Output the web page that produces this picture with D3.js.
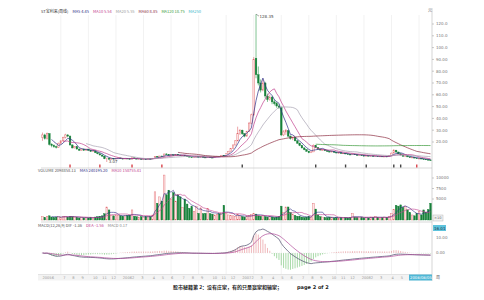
<!DOCTYPE html>
<meta charset="utf-8" />
<style>
  body { margin: 0; background: #fff; }
  text { font-family: "DejaVu Sans", sans-serif; }
  .cn { font-family: "Noto Sans CJK SC", sans-serif; }
</style>
<body>
<div id="chart"></div>
<script src="https://d3js.org/d3.v7.min.js"></script>
<script>
  // weekly candles [open, high, low, close]
  var ohlc = [
    [24,28,21,26],[26,27,22,23],[23,28,22,27],[27,27.5,17,18],[18,19,15.5,17],
    [17,18,15,16],[16,17,14.5,15.5],[15.5,19.5,15,19],[19,21.5,18,21],[21,24.5,20,24],
    [24,27,23,26],[26,26.5,24,25],[25,25.5,17,17.5],[17.5,18,14.5,15],[15,16.5,14.5,16],
    [16,16.2,13.8,14],[14,14.5,12.5,13],[13,14.5,12.8,14],[14,14.2,12.5,13],[13,14.3,12.8,14],
    [14,14.2,12.6,13],[13,13.3,11.6,12],[12,13,11.8,12.5],[12.5,12.8,10.6,11],[11,11.2,9.6,10],
    [10,10.3,8.6,9],[9,9.2,7.6,8],[8,8.2,5.5,5.8],[5.8,6.6,3.07,6.3],[6.3,6.5,5.2,5.4],
    [5.4,6.2,5.2,6],[6,6.3,5.4,5.6],[5.6,6.4,5.5,6.2],[6.2,6.8,6,6.5],[6.5,6.7,5.8,6],
    [6,6.2,5.5,5.7],[5.7,6.3,5.6,6.1],[6.1,6.4,5.7,5.9],[5.9,6,5.3,5.5],[5.5,6.8,5.4,6.6],
    [6.6,6.7,5.8,6],[6,6.1,5.4,5.6],[5.6,5.9,5.3,5.7],[5.7,5.8,5.2,5.4],[5.4,5.7,5.2,5.6],
    [5.6,5.8,5.3,5.5],[5.5,5.9,5.4,5.8],[5.8,6,5.5,5.7],[5.7,6.4,5.6,6.3],[6.3,8,6.2,7.8],
    [7.8,8.1,7,7.2],[7.2,8.3,7.1,8.1],[8.1,8.4,7.5,7.7],[7.7,10.2,7.6,9.8],[9.8,10.5,9,9.3],
    [9.3,9.5,8.4,8.6],[8.6,9.4,8.5,9.2],[9.2,9.3,8.4,8.5],[8.5,9.8,8.4,9.6],[9.6,9.7,8.7,8.9],
    [8.9,9.1,8.2,8.4],[8.4,9,8.3,8.8],[8.8,8.9,8,8.2],[8.2,8.3,7.5,7.7],[7.7,7.8,7.1,7.3],
    [7.3,7.4,6.8,7],[7,7.6,6.9,7.4],[7.4,7.9,7.2,7.7],[7.7,7.8,7,7.2],[7.2,7.7,7.1,7.5],
    [7.5,7.6,6.8,7],[7,7.2,6.6,6.8],[6.8,7.4,6.7,7.2],[7.2,7.3,6.8,6.9],[6.9,7.1,6.6,6.8],
    [6.8,7.6,6.7,7.5],[7.5,8.2,7.4,8],[8,8.1,7.6,7.8],[7.8,9,7.7,8.8],[8.8,8.9,8.2,8.4],
    [8.4,10.2,8.3,10],[10,12.5,9.8,12.2],[12.2,14.8,12,14.5],[14.5,17.8,14.2,17.5],[17.5,21.5,17,21],
    [21,33,20.5,27],[27,31,26,30],[30,30.5,26,27],[27,27.5,24,25],[25,29.5,24.5,29],
    [29,37,28.5,36],[36,44,35,43],[43,92,42,90],[91,128.35,74,77],[77,84,68,70],
    [70,73,62,64],[64,73,63,70],[70,71,57,59],[59,61,54,56],[56,60,55,58],
    [58,59,52,54],[54,56,51,52.5],[52.5,54,49,50.5],[50.5,52,48,49],[49,50,25,26],
    [26,30,25,28.5],[28.5,31,26,29.5],[29.5,30,24,25],[25,25.5,22,23],[23,24.5,21.5,24],
    [24,24.2,20.5,21],[21,21.5,18.5,19],[19,19.5,16.5,17],[17,17.5,14.5,15],[15,15.3,13,13.5],
    [13.5,13.8,11.8,12.2],[12.2,12.5,10.5,11],[11,12,10.6,11.6],[11.6,18,11.5,17],[17,17.3,14.8,15.2],
    [15.2,15.5,13.6,14],[14,14.3,12.8,13.2],[13.2,13.8,12.6,13.5],[13.5,13.6,12.3,12.6],[12.6,12.8,11.6,12],
    [12,12.4,11.2,11.5],[11.5,12.2,11.3,12],[12,12.1,11,11.2],[11.2,11.4,10.4,10.7],[10.7,11,10.2,10.9],
    [10.9,11,10,10.3],[10.3,10.7,10.1,10.5],[10.5,10.6,9.6,9.9],[9.9,10,9.3,9.5],[9.5,9.7,8.9,9.2],
    [9.2,10,9.1,9.8],[9.8,9.9,9,9.2],[9.2,9.3,8.5,8.8],[8.8,9.1,8.6,9],[9,9.1,8.3,8.5],
    [8.5,8.7,8,8.2],[8.2,8.6,8.1,8.5],[8.5,8.6,7.9,8.1],[8.1,8.4,7.8,8.3],[8.3,8.4,7.7,7.9],
    [7.9,8.2,7.6,8],[8,8.1,7.5,7.7],[7.7,8,7.5,7.9],[7.9,8,7.4,7.6],[7.6,7.9,7.4,7.8],
    [7.8,7.9,7.3,7.5],[7.5,8.6,7.4,8.4],[8.4,11,8.3,10.6],[10.6,14,10.5,13],[13,13.4,11,11.5],
    [11.5,11.8,9.6,10],[10,10.5,8.6,9],[9,9.2,7.6,7.9],[7.9,8.6,7.7,8.3],[8.3,8.4,7.2,7.4],
    [7.4,7.6,6.6,6.8],[6.8,7.2,6.5,7],[7,7.1,6.2,6.4],[6.4,6.6,5.8,6],[6,6.3,5.6,6.1],
    [6.1,6.2,5.4,5.6],[5.6,5.9,5.2,5.4],[5.4,5.5,4.9,5.1],[5.1,5.3,4.6,4.8],[4.8,5,4.3,4.5]
  ];

  var volume = [
    800,600,900,1000,700, 600,700,800,700,800, 900,700,900,800,700, 600,500,600,500,600,
    500,600,500,700,800, 900,1000,1500,3100,2400, 1100,1000,1200,1100,1000, 900,1000,1100,1200,2400,
    900,800,700,800,700, 800,900,800,1200,6700, 4000,5500,4500,10700,6000, 7100,5000,6500,4500,6000,
    5500,3000,5000,3800,2800, 3200,2000,3300,1600,2900, 1500,1600,2800,1500,1400, 1200,1300,1500,1600,3500,
    1500,1200,1100,1000,900, 1300,1000,800,700,900, 1100,1300,1500,1400,1000, 900,1000,800,700,800,
    700,600,700,800,3300, 1800,3100,3100,1800,1300, 1100,900,800,700,600, 700,800,700,4000,2600,
    1200,800,700,600,600, 700,600,500,600,500, 600,500,600,500,600, 1500,700,600,500,600,
    500,600,500,700,600, 900,600,500,600,700, 600,900,1500,2500,3500, 3300,3600,3000,3300,2400,
    1800,1200,1000,1500,2000, 1200,2400,1800,2500,4000
  ];

  var gridIdx = [8, 20, 32, 44, 56, 68, 80, 92, 104, 116, 128, 140, 152, 164];
  var priceTicks = [120, 110, 100, 90, 80, 70, 60, 50, 40, 30, 20];
  var volTicks = [10000, 7500, 5000];
  var macdTicks = [10, 0];
  var markers = [[12, "r"], [25, "r"], [39, "r"], [52, "r"], [87, "k"], [119, "k"],
                 [132, "k"], [141, "k"], [153, "k"], [156, "k"], [163, "r"]];
  var dateTicks = [[0,"2005"],[4,"6"],[9,"7"],[13,"8"],[17,"9"],[22,"10"],[26,"11"],[30,"12"],
    [35,"2006"],[39,"2"],[43,"3"],[48,"4"],[52,"5"],[56,"6"],[61,"7"],[65,"8"],[69,"9"],[74,"10"],
    [78,"11"],[82,"12"],[87,"2007"],[91,"2"],[95,"3"],[100,"4"],[104,"5"],[108,"6"],[113,"7"],
    [117,"8"],[121,"9"],[126,"10"],[130,"11"],[134,"12"],[139,"2008"],[143,"2"],[147,"3"],[152,"4"],
    [156,"5"]];

  var priceLegend = [["ST宝利来(周线)", "#333"], ["MA5 4.45", "#2e2e86"], ["MA10 5.54", "#c2408e"],
    ["MA20 5.55", "#9a9a9a"], ["MA60 8.85", "#8c2c40"], ["MA120 18.75", "#3a9a3a"], ["MA250", "#3bb4c8"]];
  var volLegend = [["VOLUME 2098858.13", "#555"], ["MA5 240195.20", "#2e2e86"], ["MA10 158755.41", "#c2408e"]];
  var macdLegend = [["MACD(12,26,9) DIF -1.36", "#555"], ["DEA -1.56", "#c2408e"], ["MACD 0.17", "#888"]];
  var lastDate = "2008/08/05";
  var caption = "股市秘籍第 2：没有庄家，有的只是赢家和输家；";
  var pageText = "page 2 of 2";

  var W = 484, H = 300, L = 41, R = 432;
  var upFill = "#fde6e6", upStroke = "#e0666c", dnFill = "#17803a";

  var svg = d3.select("#chart").append("svg").attr("width", W).attr("height", H);

  var n = ohlc.length;
  var x = d3.scaleBand().domain(d3.range(n)).range([L, R]).padding(0.28);
  var bw = x.bandwidth();
  var cx = function (i) { return x(i) + bw / 2; };

  var yP = d3.scaleLinear().domain([0, 120]).range([165.6, 24]);
  var yV = d3.scaleLinear().domain([0, 10000]).range([220, 178]);
  var yM = d3.scaleLinear().domain([0, 10]).range([253, 238]);

  // moving averages
  function ma(arr, k) {
    return arr.map(function (d, i) {
      return i < k - 1 ? null : d3.mean(arr.slice(i - k + 1, i + 1));
    });
  }
  function ema(arr, k) {
    var a = 2 / (k + 1), out = [], prev;
    arr.forEach(function (d, i) { prev = i === 0 ? d : prev + a * (d - prev); out.push(prev); });
    return out;
  }
  var closes = ohlc.map(function (d) { return d[3]; });

  // vertical grid lines through all panels
  svg.append("g").selectAll("line").data(gridIdx).join("line")
    .attr("x1", cx).attr("x2", cx).attr("y1", 15).attr("y2", 274)
    .attr("stroke", "#e9e9e9").attr("stroke-width", 0.6);

  // panel separators
  [[168, "#cfcfcf"], [222, "#cfcfcf"]].forEach(function (s) {
    svg.append("line").attr("x1", L).attr("x2", R).attr("y1", s[0]).attr("y2", s[0])
      .attr("stroke", s[1]).attr("stroke-width", 0.8);
  });
  svg.append("line").attr("x1", R).attr("x2", R).attr("y1", 8).attr("y2", 281)
    .attr("stroke", "#bbb").attr("stroke-width", 0.6);

  // price candles
  var gc = svg.append("g");
  gc.selectAll("line").data(ohlc).join("line")
    .attr("x1", function (d, i) { return cx(i); }).attr("x2", function (d, i) { return cx(i); })
    .attr("y1", function (d) { return yP(d[1]); }).attr("y2", function (d) { return yP(d[2]); })
    .attr("stroke", function (d) { return d[3] >= d[0] ? upStroke : "#2a9a48"; })
    .attr("stroke-width", 0.6);
  gc.selectAll("rect").data(ohlc).join("rect")
    .attr("x", function (d, i) { return x(i); }).attr("width", bw)
    .attr("y", function (d) { return yP(Math.max(d[0], d[3])); })
    .attr("height", function (d) { return Math.max(0.6, Math.abs(yP(d[0]) - yP(d[3]))); })
    .attr("fill", function (d) { return d[3] >= d[0] ? upFill : dnFill; })
    .attr("stroke", function (d) { return d[3] >= d[0] ? upStroke : dnFill; })
    .attr("stroke-width", 0.4);

  var maDefs = [[5, "#2e2e86"], [10, "#c2408e"], [20, "#a8a2b2"], [60, "#8c2c40"], [120, "#3a9a3a"]];
  var line = function (ys) {
    return d3.line().defined(function (d) { return d != null; })
      .x(function (d, i) { return cx(i); }).y(function (d) { return ys(d); });
  };
  maDefs.forEach(function (m) {
    svg.append("path").datum(ma(closes, m[0]))
      .attr("d", line(yP)).attr("fill", "none").attr("stroke", m[1]).attr("stroke-width", 0.7);
  });

  // high / low labels
  var hiI = d3.maxIndex(ohlc, function (d) { return d[1]; });
  var loI = d3.minIndex(ohlc, function (d) { return d[2]; });
  svg.append("path")
    .attr("d", "M" + cx(hiI) + "," + yP(ohlc[hiI][1]) + "l3,2")
    .attr("stroke", "#555").attr("stroke-width", 0.5).attr("fill", "none");
  svg.append("text").attr("x", cx(hiI) + 3.5).attr("y", yP(ohlc[hiI][1]) + 3.5)
    .attr("font-size", 4).attr("fill", "#444").text(ohlc[hiI][1].toFixed(2));
  svg.append("text").attr("x", cx(loI) + 2).attr("y", yP(ohlc[loI][2]) + 1.5)
    .attr("font-size", 4).attr("fill", "#444").text(ohlc[loI][2].toFixed(2));

  // event markers
  svg.append("g").selectAll("rect").data(markers).join("rect")
    .attr("x", function (d) { return cx(d[0]) - 0.7; }).attr("y", 164.5)
    .attr("width", 1.4).attr("height", 3)
    .attr("fill", function (d) { return d[1] === "r" ? "#d9434a" : "#444"; });

  // price axis
  var ga = svg.append("g");
  ga.selectAll("line").data(priceTicks).join("line")
    .attr("x1", R).attr("x2", R + 2).attr("y1", yP).attr("y2", yP)
    .attr("stroke", "#999").attr("stroke-width", 0.5);
  ga.selectAll("text").data(priceTicks).join("text")
    .attr("x", R + 4).attr("y", function (d) { return yP(d) + 1.4; })
    .attr("font-size", 4).attr("fill", "#777").text(d3.format(".4r"));
  svg.append("text").attr("class", "cn").attr("x", R - 4).attr("y", 12)
    .attr("font-size", 4).attr("fill", "#666").text("元");

  // legends
  function legend(items, x0, y0, gap) {
    var xx = x0;
    items.forEach(function (it) {
      var t = svg.append("text").attr("class", "cn").attr("x", xx).attr("y", y0)
        .attr("font-size", 4).attr("fill", it[1]).text(it[0]);
      xx += t.node().getComputedTextLength() + gap;
    });
  }
  legend(priceLegend, 41, 12.5, 4);
  legend(volLegend, 38, 172, 4);
  legend(macdLegend, 38, 226.5, 4);

  // volume
  var gv = svg.append("g");
  gv.selectAll("rect").data(volume).join("rect")
    .attr("x", function (d, i) { return x(i); }).attr("width", bw)
    .attr("y", function (d) { return yV(d); })
    .attr("height", function (d) { return yV(0) - yV(d); })
    .attr("fill", function (d, i) { return ohlc[i][3] >= ohlc[i][0] ? upFill : dnFill; })
    .attr("stroke", function (d, i) { return ohlc[i][3] >= ohlc[i][0] ? upStroke : dnFill; })
    .attr("stroke-width", 0.4);
  [[5, "#2e2e86"], [10, "#c2408e"]].forEach(function (m) {
    svg.append("path").datum(ma(volume, m[0]))
      .attr("d", line(yV)).attr("fill", "none").attr("stroke", m[1]).attr("stroke-width", 0.6);
  });
  svg.append("g").selectAll("text").data(volTicks).join("text")
    .attr("x", R + 4).attr("y", function (d) { return yV(d) + 1.4; })
    .attr("font-size", 4).attr("fill", "#777").text(function (d) { return d; });
  svg.append("g").selectAll("line").data(volTicks).join("line")
    .attr("x1", R).attr("x2", R + 2).attr("y1", yV).attr("y2", yV)
    .attr("stroke", "#999").attr("stroke-width", 0.5);
  svg.append("rect").attr("x", R + 1).attr("y", 215).attr("width", 10).attr("height", 6)
    .attr("fill", "#f2f2f2").attr("stroke", "#aaa").attr("stroke-width", 0.4);
  svg.append("text").attr("x", R + 2).attr("y", 219.3).attr("font-size", 3.6)
    .attr("fill", "#666").text("×10");

  // MACD
  var e12 = ema(closes, 12), e26 = ema(closes, 26);
  var dif = e12.map(function (d, i) { return d - e26[i]; });
  var dea = ema(dif, 9);
  var hist = dif.map(function (d, i) { return 2 * (d - dea[i]); });

  svg.append("g").selectAll("line").data(hist).join("line")
    .attr("x1", function (d, i) { return cx(i); }).attr("x2", function (d, i) { return cx(i); })
    .attr("y1", yM(0)).attr("y2", function (d) { return yM(d); })
    .attr("stroke", function (d) { return d >= 0 ? "#e58a8f" : "#6cbf6c"; })
    .attr("stroke-width", 0.6);
  svg.append("line").attr("x1", L).attr("x2", R).attr("y1", yM(0)).attr("y2", yM(0))
    .attr("stroke", "#ddd").attr("stroke-width", 0.4).attr("stroke-dasharray", "1,1");
  svg.append("path").datum(dif).attr("d", line(yM)).attr("fill", "none")
    .attr("stroke", "#4a4a6a").attr("stroke-width", 0.7);
  svg.append("path").datum(dea).attr("d", line(yM)).attr("fill", "none")
    .attr("stroke", "#b04a9a").attr("stroke-width", 0.7);

  svg.append("g").selectAll("text").data(macdTicks).join("text")
    .attr("x", R + 4).attr("y", function (d) { return yM(d) + 1.4; })
    .attr("font-size", 4).attr("fill", "#777").text(d3.format(".2f"));
  svg.append("rect").attr("x", R + 1).attr("y", 225).attr("width", 13).attr("height", 6)
    .attr("fill", "#5ec3dc");
  svg.append("text").attr("x", R + 2).attr("y", 229.5).attr("font-size", 4)
    .attr("fill", "#234").text(d3.max(dif).toFixed(2));

  // date strip
  svg.append("rect").attr("x", L - 3).attr("y", 274.5).attr("width", R - L + 3).attr("height", 6)
    .attr("fill", "#f3f3f3");
  svg.append("line").attr("x1", L - 3).attr("x2", R).attr("y1", 274.5).attr("y2", 274.5)
    .attr("stroke", "#ccc").attr("stroke-width", 0.5);
  svg.append("g").selectAll("text").data(dateTicks).join("text")
    .attr("x", function (d) { return cx(d[0]); }).attr("y", 279)
    .attr("font-size", 3.6).attr("fill", "#999").text(function (d) { return d[1]; });
  svg.append("rect").attr("x", 409).attr("y", 274.5).attr("width", R - 409).attr("height", 6)
    .attr("fill", "#4fb7d6");
  svg.append("text").attr("x", 410).attr("y", 279).attr("font-size", 3.8)
    .attr("fill", "#fff").text(lastDate);
  svg.append("text").attr("class", "cn").attr("x", R + 4).attr("y", 279)
    .attr("font-size", 4).attr("fill", "#666").text("周");

  // caption
  svg.append("text").attr("class", "cn").attr("x", 173).attr("y", 289)
    .attr("font-size", 5).attr("font-weight", "bold").attr("fill", "#222").text(caption);
  svg.append("text").attr("x", 297).attr("y", 289)
    .attr("font-size", 5).attr("font-weight", "bold").attr("fill", "#222").text(pageText);
</script>
</body>
